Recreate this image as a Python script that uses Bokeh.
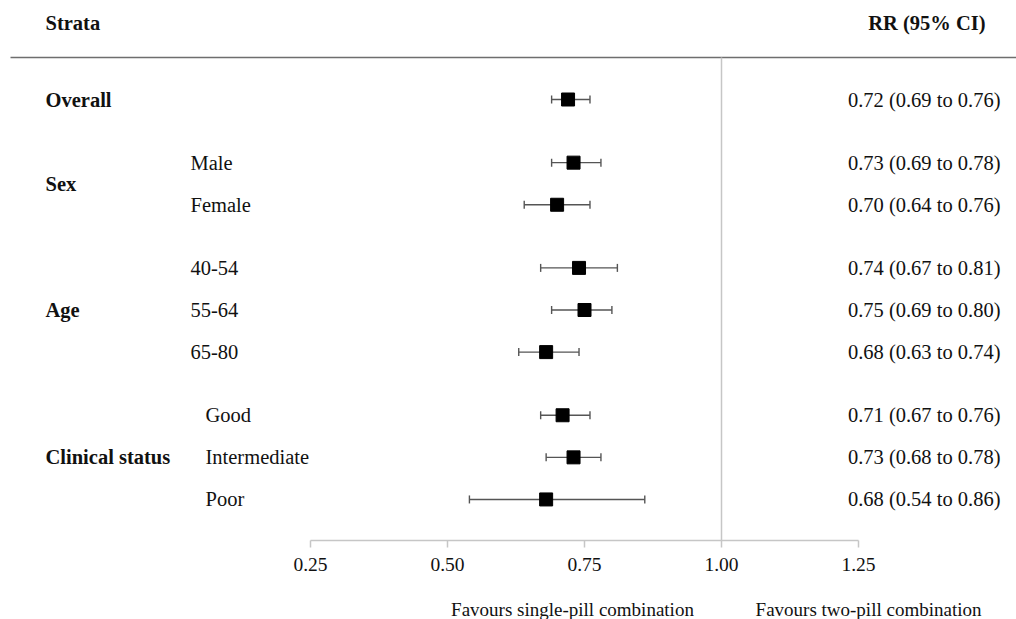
from bokeh.plotting import figure
from bokeh.layouts import column
from bokeh.models import (ColumnDataSource, Range1d, LinearAxis, FixedTicker,
                          NumeralTickFormatter, Whisker, TeeHead)
from bokeh.core.properties import value
from bokeh.embed import file_html
from bokeh.resources import INLINE

# ---- data ----
groups = ["Overall", "Sex", "Sex", "Age", "Age", "Age",
          "Clinical status", "Clinical status", "Clinical status"]
subgroups = ["", "Male", "Female", "40-54", "55-64", "65-80",
             "Good", "Intermediate", "Poor"]
rr = [0.72, 0.73, 0.70, 0.74, 0.75, 0.68, 0.71, 0.73, 0.68]
lo = [0.69, 0.69, 0.64, 0.67, 0.69, 0.63, 0.67, 0.68, 0.54]
hi = [0.76, 0.78, 0.76, 0.81, 0.80, 0.74, 0.76, 0.78, 0.86]
ticks = [0.25, 0.50, 0.75, 1.00, 1.25]
null_value = 1.0
header_left = "Strata"
header_right = "RR (95% CI)"
favours_left = "Favours single-pill combination"
favours_right = "Favours two-pill combination"

# ---- layout ----
W = 1016
H_MAIN, H_FOOT = 585, 34
FONT = "Liberation Serif"
FS = "20.5px"
PX0, PX1 = 310, 858                  # page px of 0.25 and 1.25
scale = (PX1 - PX0) / (ticks[-1] - ticks[0])
x_start = ticks[0] - PX0 / scale
x_end = ticks[0] + (W - PX0) / scale
def px2x(px):
    return ticks[0] + (px - PX0) / scale

row_px = 42.1
frame_bottom = 540
first_row = 99
y_top = -first_row / row_px
y_bot = (frame_bottom - first_row) / row_px
def py2y(py):
    return (py - first_row) / row_px

# row positions with gaps between groups
rows = []
pos = 0.0
for i, g in enumerate(groups):
    if i > 0 and g != groups[i - 1]:
        pos += 0.5
    rows.append(pos)
    pos += 1.0

labels = [f"{a:.2f} ({b:.2f} to {c:.2f})" for a, b, c in zip(rr, lo, hi)]
src = ColumnDataSource(dict(row=rows, rr=rr, lo=lo, hi=hi, lab=labels))

xr = Range1d(x_start, x_end)
p = figure(width=W, height=H_MAIN, output_backend="svg", toolbar_location=None,
           x_range=xr, y_range=Range1d(y_bot, y_top),
           x_axis_type=None, y_axis_type=None,
           min_border_left=0, min_border_right=0, min_border_top=0,
           min_border_bottom=H_MAIN - frame_bottom)
p.outline_line_color = None
p.grid.visible = False

# axis
ax = LinearAxis(ticker=FixedTicker(ticks=ticks),
                formatter=NumeralTickFormatter(format="0.00"),
                bounds=(ticks[0], ticks[-1]))
ax.axis_line_color = "#c6c6c6"
ax.axis_line_width = 1.5
ax.major_tick_line_color = "#c6c6c6"
ax.major_tick_line_width = 1.5
ax.major_tick_out = 7
ax.major_tick_in = 0
ax.minor_tick_line_color = None
ax.major_label_text_font = FONT
ax.major_label_text_font_size = "19.5px"
ax.major_label_text_color = "#111111"
ax.major_label_standoff = 10
p.add_layout(ax, "below")

# header line
header_y = py2y(57)
p.segment(x0=[px2x(10)], x1=[px2x(1016)], y0=[header_y], y1=[header_y],
          line_color="#6e6e6e", line_width=1.6)
# null line
p.segment(x0=[null_value], x1=[null_value], y0=[header_y], y1=[y_bot],
          line_color="#c6c6c6", line_width=1.5)

# error bars and estimates
head = dict(size=8, line_color="#555555", line_width=1.4)
p.add_layout(Whisker(source=src, base="row", lower="lo", upper="hi",
                     dimension="width", line_color="#555555", line_width=1.4,
                     lower_head=TeeHead(**head), upper_head=TeeHead(**head)))
p.scatter(x="rr", y="row", source=src, marker="square", size=13,
          fill_color="black", line_color="black")

txt = dict(text_baseline="middle", text_font=value(FONT), text_font_size=FS,
           text_color="#111111")

# value labels
p.text(x=px2x(1000), y="row", text="lab", source=src, text_align="right", **txt)

# subgroup labels
sub_x = [px2x(205) if g == "Clinical status" else px2x(190) for g in groups]
src2 = ColumnDataSource(dict(x=sub_x, row=rows, sub=subgroups))
p.text(x="x", y="row", text="sub", source=src2, text_align="left", **txt)

# group labels
gnames, grows = [], []
for g in dict.fromkeys(groups):
    rs = [r for r, gg in zip(rows, groups) if gg == g]
    gnames.append(g)
    grows.append(sum(rs) / len(rs))
p.text(x=px2x(45), y=grows, text=gnames, text_align="left",
       text_font_style="bold", **txt)

# headers
hy = py2y(22)
p.text(x=[px2x(45)], y=[hy], text=[header_left], text_align="left",
       text_font_style="bold", **txt)
p.text(x=[px2x(985)], y=[hy], text=[header_right], text_align="right",
       text_font_style="bold", **txt)

# footer with "favours" labels
f = figure(width=W, height=H_FOOT, output_backend="svg", toolbar_location=None,
           x_range=xr, y_range=Range1d(H_FOOT, 0),
           x_axis_type=None, y_axis_type=None,
           min_border_left=0, min_border_right=0, min_border_top=0,
           min_border_bottom=0)
f.outline_line_color = None
f.grid.visible = False
f.text(x=[px2x(572), px2x(868)], y=[24, 24], text=[favours_left, favours_right],
       text_align="center", text_baseline="middle", text_font=value(FONT),
       text_font_size="19px", text_color="#111111")

layout = column(p, f, spacing=0)
open("out.html", "w").write(file_html(layout, INLINE))
